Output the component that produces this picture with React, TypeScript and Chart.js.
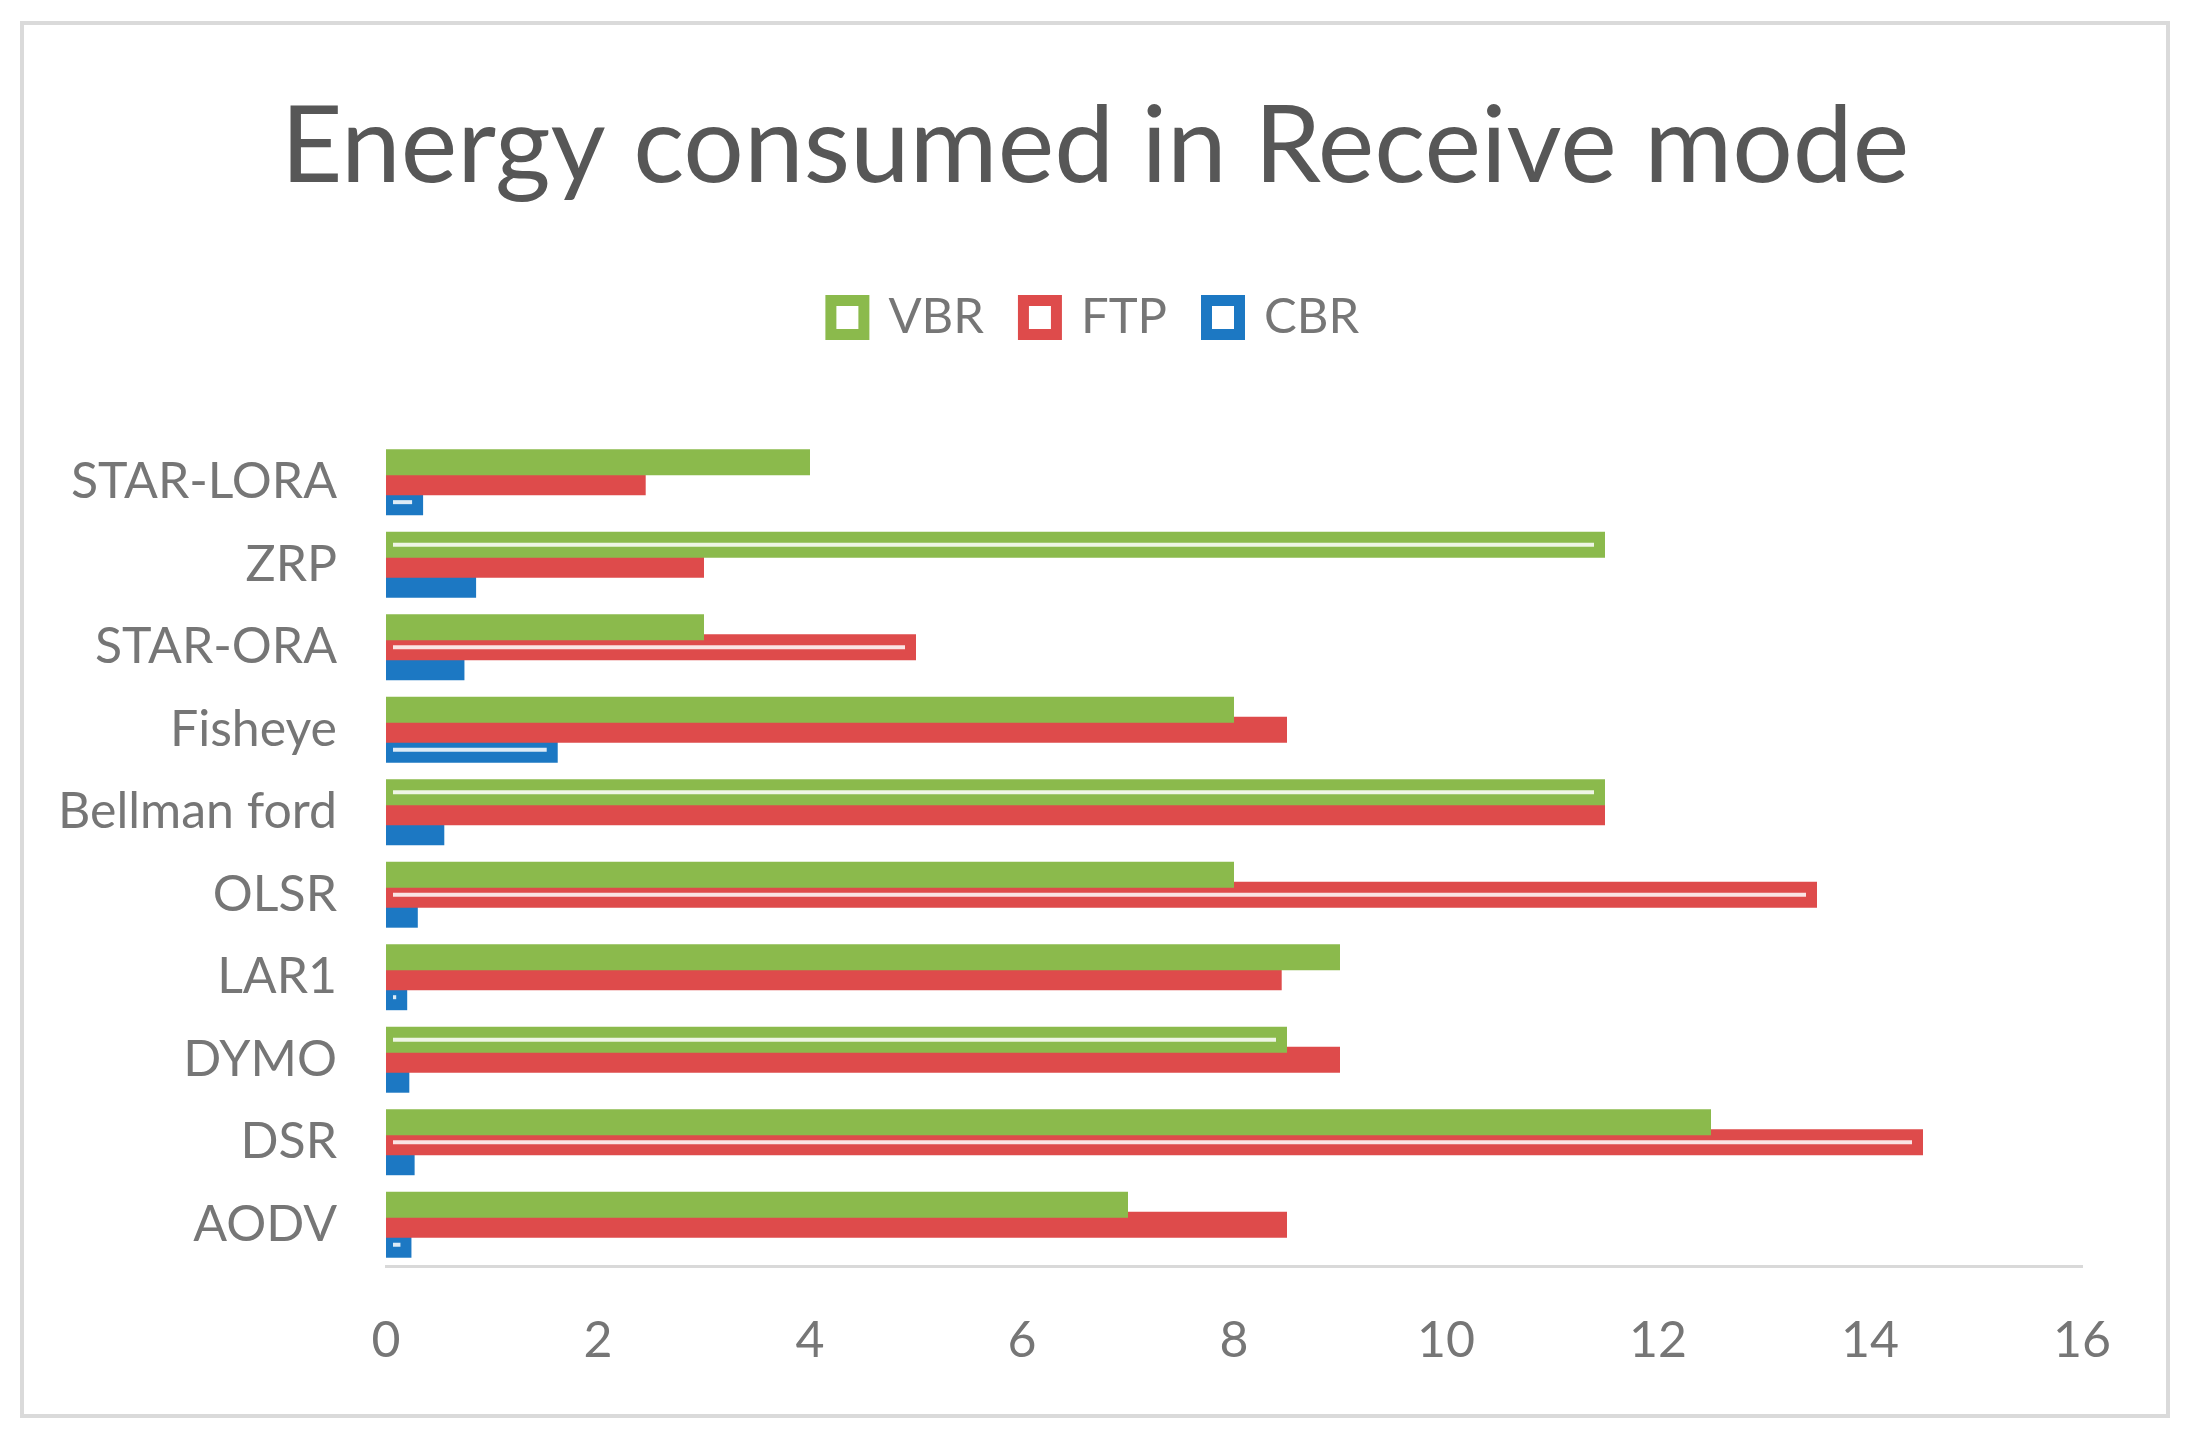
import { useEffect, useRef } from "react";
import { Chart, registerables } from "chart.js";

Chart.register(...registerables);

// ---- data ----
const categories = ["AODV", "DSR", "DYMO", "LAR1", "OLSR", "Bellman ford", "Fisheye", "STAR-ORA", "ZRP", "STAR-LORA"];
const seriesNames = ["VBR", "FTP", "CBR"];
const vbrValues = [7, 12.5, 8.5, 9, 8, 11.5, 8, 3, 11.5, 4];
const ftpValues = [8.5, 14.5, 9, 8.45, 13.5, 11.5, 8.5, 5, 3, 2.45];
const cbrValues = [0.24, 0.27, 0.22, 0.2, 0.3, 0.55, 1.62, 0.74, 0.85, 0.35];
const xTickValues = [0, 2, 4, 6, 8, 10, 12, 14, 16];
// which series carries the white inner stroke in each category (0=VBR,1=FTP,2=CBR)
const highlightedSeries = [2, 1, 0, 2, 1, 0, 2, 1, 0, 2];

const seriesColors = ["#8BBA4C", "#DE4B4B", "#1C78C3"];
const FONT = "Lato, 'Open Sans', 'DejaVu Sans', sans-serif";
const TEXT_GRAY = "#767676";

const highlightPlugin = {
  id: "innerStroke",
  afterDatasetsDraw(chart: any) {
    const ctx = chart.ctx;
    ctx.save();
    ctx.strokeStyle = "rgba(255,255,255,0.85)";
    ctx.lineWidth = 4;
    highlightedSeries.forEach((ds, i) => {
      const el: any = chart.getDatasetMeta(ds).data[i];
      if (!el) return;
      const start = el.base + 7;
      const end = Math.max(el.x - 11, start + 3);
      ctx.beginPath();
      ctx.moveTo(start, el.y);
      ctx.lineTo(end, el.y);
      ctx.stroke();
    });
    ctx.restore();
  },
};

export default function App() {
  const ref = useRef<HTMLCanvasElement>(null);
  useEffect(() => {
    const canvas = ref.current!;
    const values = [vbrValues, ftpValues, cbrValues];
    const chart = new Chart(canvas, {
      type: "bar",
      data: {
        labels: categories,
        datasets: seriesNames.map((name, k) => ({
          label: name,
          data: values[k],
          backgroundColor: seriesColors[k],
          borderWidth: 0,
        })),
      },
      options: {
        indexAxis: "y",
        responsive: false,
        animation: false,
        devicePixelRatio: 1,
        layout: { padding: { left: 0, right: 0, top: 0, bottom: 0 } },
        datasets: { bar: { categoryPercentage: 0.727, barPercentage: 1.3 } },
        plugins: {
          title: {
            display: true,
            text: "Energy consumed in Receive mode",
            color: "#575757",
            font: { family: FONT, size: 107, weight: "normal" },
            padding: { top: 83, bottom: 42 },
          },
          legend: {
            display: true,
            position: "top",
            labels: {
              color: TEXT_GRAY,
              font: { family: FONT, size: 49 },
              boxWidth: 33,
              boxHeight: 34,
              padding: 39.5,
              generateLabels: (ch: any) =>
                (Chart.defaults.plugins.legend.labels as any).generateLabels(ch).map((l: any) => ({
                  ...l,
                  fillStyle: "#ffffff",
                  strokeStyle: seriesColors[l.datasetIndex],
                  lineWidth: 11,
                  fontColor: TEXT_GRAY,
                })),
            },
          },
          tooltip: { enabled: false },
        },
        scales: {
          xTop: {
            type: "linear",
            position: "top",
            display: true,
            min: 0,
            max: 16,
            grid: { display: false, drawTicks: false },
            border: { display: false },
            ticks: { display: false },
            afterFit: (s: any) => {
              s.height = 89;
            },
          },
          x: {
            type: "linear",
            position: "bottom",
            min: 0,
            max: 16,
            afterBuildTicks: (s: any) => {
              s.ticks = xTickValues.map((v) => ({ value: v }));
            },
            grid: { display: false, drawTicks: false },
            border: { display: true, color: "#d9d9d9", width: 3 },
            ticks: { color: TEXT_GRAY, font: { family: FONT, size: 50 }, padding: 45 },
            afterFit: (s: any) => {
              s.height = 174;
            },
          },
          y: {
            type: "category",
            reverse: true,
            grid: { display: false, drawTicks: false },
            border: { display: false },
            ticks: { color: TEXT_GRAY, font: { family: FONT, size: 50 }, padding: 49 },
            afterFit: (s: any) => {
              s.width = 386;
            },
          },
          yRight: {
            type: "linear",
            position: "right",
            display: true,
            grid: { display: false, drawTicks: false },
            border: { display: false },
            ticks: { display: false },
            afterFit: (s: any) => {
              s.width = 108;
            },
          },
        },
      } as any,
      plugins: [highlightPlugin],
    });
    return () => chart.destroy();
  }, []);

  return (
    <div style={{ position: "fixed", left: 0, top: 0, width: 2190, height: 1440, background: "#ffffff" }}>
      <div
        style={{
          position: "absolute",
          left: 20,
          top: 21,
          width: 2150,
          height: 1397,
          boxSizing: "border-box",
          border: "4px solid #dadada",
        }}
      />
      <canvas
        ref={ref}
        width={2190}
        height={1440}
        style={{ position: "absolute", left: 0, top: 0, width: 2190, height: 1440 }}
      />
    </div>
  );
}
